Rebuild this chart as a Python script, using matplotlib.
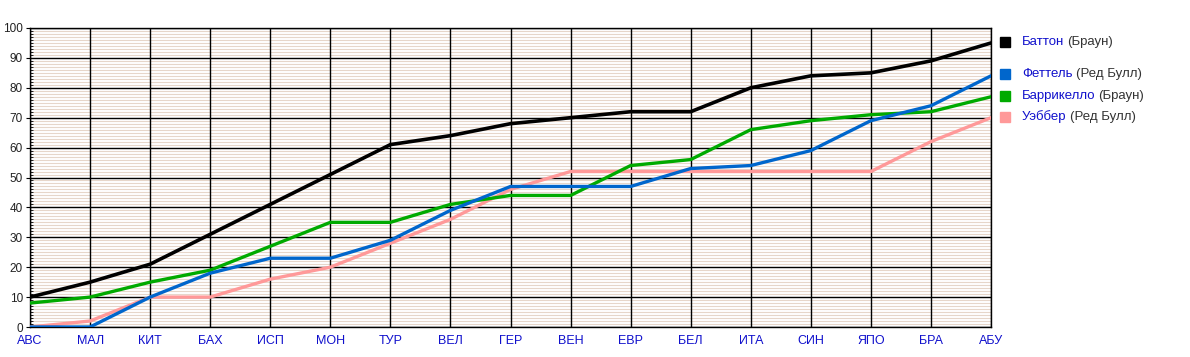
import numpy as np
import matplotlib.pyplot as plt
from matplotlib.ticker import MultipleLocator
from matplotlib.lines import Line2D

plt.rcParams['font.family'] = ['Liberation Sans', 'DejaVu Sans']

races = ['АВС', 'МАЛ', 'КИТ', 'БАХ', 'ИСП', 'МОН', 'ТУР', 'ВЕЛ', 'ГЕР',
         'ВЕН', 'ЕВР', 'БЕЛ', 'ИТА', 'СИН', 'ЯПО', 'БРА', 'АБУ']
button = [10, 15, 21, 31, 41, 51, 61, 64, 68, 70, 72, 72, 80, 84, 85, 89, 95]
vettel = [0, 0, 10, 18, 23, 23, 29, 39, 47, 47, 47, 53, 54, 59, 69, 74, 84]
barrichello = [8, 10, 15, 19, 27, 35, 35, 41, 44, 44, 54, 56, 66, 69, 71, 72, 77]
webber = [0, 2, 10, 10, 16, 20, 28, 36, 46, 52, 52, 52, 52, 52, 52, 62, 70]

drivers = ['Баттон', 'Феттель', 'Баррикелло', 'Уэббер']
teams = ['(Браун)', '(Ред Булл)', '(Браун)', '(Ред Булл)']
colors = ['#000000', '#0066cc', '#00aa00', '#ff9999']
series = [button, vettel, barrichello, webber]

fig = plt.figure(figsize=(11.9, 3.57), dpi=100)
ax = fig.add_axes([30 / 1190, 1 - 327 / 357, 961 / 1190, 299 / 357])

x = np.arange(len(races))
# pink first so the others sit on top
for i in [3, 2, 1, 0]:
    ax.plot(x, series[i], color=colors[i], lw=2.4 if i else 2.6,
            zorder=3 + (3 - i))

ax.set_xlim(0, len(races) - 1)
ax.set_ylim(0, 100)
ax.set_xticks(x)
ax.set_xticklabels(races, color='#1010cc', fontsize=9)
ax.yaxis.set_major_locator(MultipleLocator(10))
ax.yaxis.set_minor_locator(MultipleLocator(1))
ax.tick_params(axis='y', which='major', length=3, labelsize=8.5,
               labelcolor='#222222', pad=2)
ax.tick_params(axis='y', which='minor', length=2, direction='in')
ax.tick_params(axis='x', length=0, pad=6)

# fine lines every point, under the black grid
ax.hlines(np.arange(1, 100), 0, len(races) - 1, color='#e6d6ca', lw=0.8, zorder=0)
ax.set_axisbelow('line')
ax.grid(which='major', axis='both', color='black', lw=1)
for s in ax.spines.values():
    s.set_linewidth(1)

# legend drawn by hand: name blue, team dark gray
leg_y = [42, 74, 96, 117]
fig.canvas.draw()
for i in range(4):
    yf = 1 - leg_y[i] / 357
    fig.add_artist(Line2D([1005 / 1190], [yf], marker='s', markersize=7,
                          color=colors[i], lw=0, transform=fig.transFigure))
    t = fig.text(1022 / 1190, yf, drivers[i], color='#1010cc', fontsize=9.5,
                 va='center')
    bb = t.get_window_extent(fig.canvas.get_renderer())
    fig.text((bb.x1 + 3) / 1190, yf, teams[i], color='#333333',
             fontsize=9.5, va='center')

fig.savefig('out.png', dpi=100)
